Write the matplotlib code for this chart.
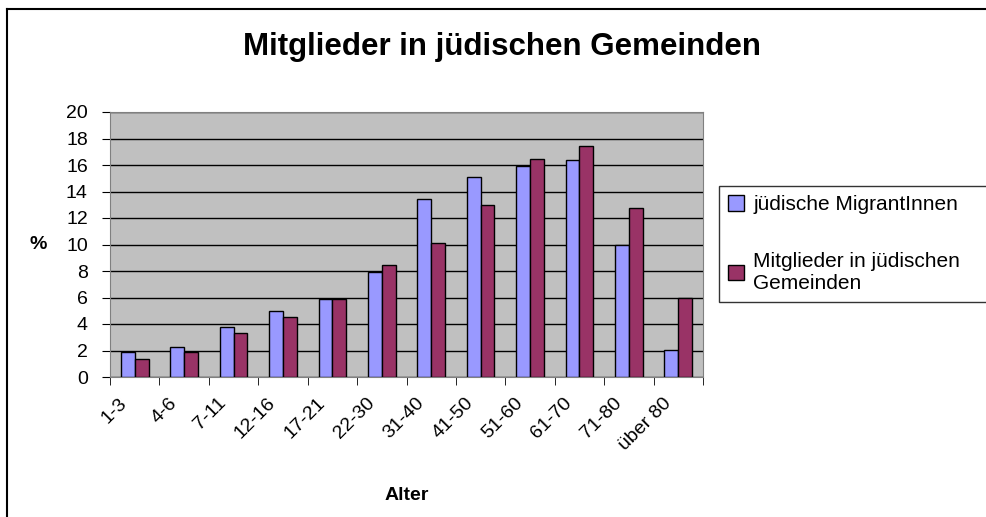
import numpy as np
import matplotlib.pyplot as plt
import matplotlib.transforms as mtransforms
from matplotlib.lines import Line2D

plt.rcParams['font.family'] = ['Liberation Sans', 'DejaVu Sans']

# age groups and shares (%)
alter = ['1-3', '4-6', '7-11', '12-16', '17-21', '22-30', '31-40',
         '41-50', '51-60', '61-70', '71-80', 'über 80']
migranten = [1.9, 2.25, 3.8, 5.0, 5.9, 7.9, 13.4, 15.1, 15.9, 16.35, 10.0, 2.05]
gemeinden = [1.35, 1.85, 3.3, 4.5, 5.85, 8.45, 10.15, 12.95, 16.45, 17.45, 12.75, 5.95]

fig = plt.figure(figsize=(9.86, 5.17), dpi=100)
ax = fig.add_axes([110 / 986, 1 - 377 / 517, 593 / 986, 265 / 517])

x = np.arange(len(alter))
w = 0.28
ax.bar(x - w / 2, migranten, w, color='#9999FF', edgecolor='black', linewidth=1,
       label='jüdische MigrantInnen', zorder=3)
ax.bar(x + w / 2, gemeinden, w, color='#993366', edgecolor='black', linewidth=1,
       label='Mitglieder in jüdischen\nGemeinden', zorder=3)

ax.set_facecolor('#C0C0C0')
ax.set_xlim(-0.5, len(alter) - 0.5)
ax.set_ylim(0, 20)
ax.set_yticks(range(0, 21, 2))
ax.yaxis.grid(True, color='black', linewidth=1, zorder=0)
ax.set_axisbelow(True)

ax.set_xticks(x)
ax.set_xticklabels(alter, rotation=45, ha='right', va='center', rotation_mode='anchor', fontsize=14)
ax.set_xticks(np.arange(-0.5, len(alter)), minor=True)
ax.tick_params(axis='x', which='major', length=0, pad=17)
ax.tick_params(axis='x', which='minor', length=6, direction='out')
ax.tick_params(axis='y', length=6, direction='out', labelsize=14, pad=10)
shift = mtransforms.ScaledTranslation(-10 / 100, 0, fig.dpi_scale_trans)
for lbl in ax.get_xticklabels():
    lbl.set_transform(lbl.get_transform() + shift)

for s in ax.spines.values():
    s.set_color('#808080')

ax.set_ylabel('%', fontsize=14, fontweight='bold', rotation=0, labelpad=20, va='center')
ax.set_xlabel('Alter', fontsize=14, fontweight='bold', labelpad=24)

fig.text(502 / 986, 1 - 47 / 517, 'Mitglieder in jüdischen Gemeinden',
         fontsize=22.5, fontweight='bold', ha='center', va='center')

# legend frame runs past the right edge, as in the original
leg = fig.legend(loc='upper left', bbox_to_anchor=(719 / 986, 1 - 186 / 517, 0.3, 0),
                 mode='expand', fontsize=15, frameon=True, fancybox=False, edgecolor='black',
                 handlelength=0.75, handleheight=0.75, handletextpad=0.45,
                 labelspacing=1.8, borderpad=0.45, borderaxespad=0)
leg.get_frame().set_linewidth(1)

# chart border (left and top edges visible)
fig.add_artist(Line2D([7 / 986, 7 / 986], [0, 1 - 9 / 517], color='black', linewidth=1.5,
                      transform=fig.transFigure))
fig.add_artist(Line2D([7 / 986, 1], [1 - 9 / 517, 1 - 9 / 517], color='black', linewidth=1.5,
                      transform=fig.transFigure))

plt.savefig('out.png', dpi=100)
